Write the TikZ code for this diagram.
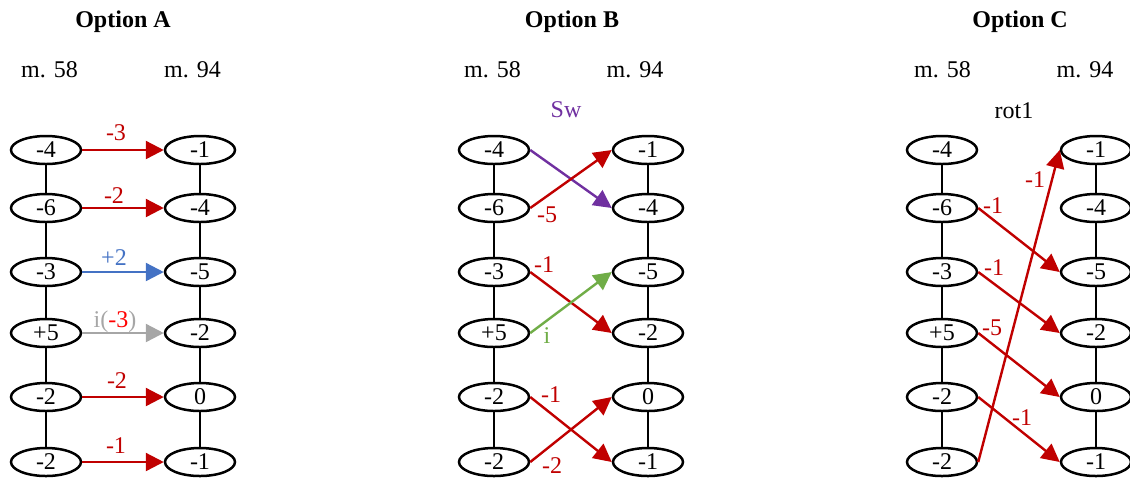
\documentclass[tikz,border=0pt]{standalone}
\usepackage{fontspec}
\setmainfont{Liberation Serif}
\usetikzlibrary{arrows.meta,shapes.geometric}
\definecolor{cred}{HTML}{C00000}
\definecolor{bred}{HTML}{FF0000}
\definecolor{cblue}{HTML}{4472C4}
\definecolor{cgray}{HTML}{A6A6A6}
\definecolor{cpurple}{HTML}{7030A0}
\definecolor{cgreen}{HTML}{70AD47}
\begin{document}
\begin{tikzpicture}[x=0.5pt,y=-0.5pt,
  nd/.style={draw,ellipse,line width=1.25pt,minimum width=35pt,minimum height=14pt,inner sep=0pt,font=\fontsize{12}{14}\selectfont},
  vl/.style={line width=0.6pt},
  ar/.style={line width=1.2pt,-{Triangle[length=9pt,width=9pt]}},
  lb/.style={font=\fontsize{12}{14}\selectfont,inner sep=0pt,anchor=base},
  ttl/.style={font=\bfseries\fontsize{12}{14}\selectfont,inner sep=0pt,anchor=base}]
\useasboundingbox (0,0) rectangle (1130,479);

% titles and headers
\node[ttl] (tA) at (123,27) {Option A};
\node[ttl] (tB) at (572,27) {Option B};
\node[ttl] (tC) at (1020,27) {Option C};
\node[lb] (hA1) at (49.5,77) {m. 58};
\node[lb] (hA2) at (192.5,77) {m. 94};
\node[lb] (hB1) at (492.5,77) {m. 58};
\node[lb] (hB2) at (635,77) {m. 94};
\node[lb] (hC1) at (942.5,77) {m. 58};
\node[lb] (hC2) at (1085,77) {m. 94};
\node[lb,text=cpurple] (sw) at (566,117) {Sw};
\node[lb] (rot) at (1014,118) {rot1};

% nodes
\foreach \g/\xl/\xr in {A/46/200, B/494/648, C/942/1096} {
  \foreach \i/\y/\l/\r in {1/150/-4/-1, 2/208/-6/-4, 3/272/-3/-5, 4/333/+5/-2, 5/397/-2/0, 6/462/-2/-1} {
    \node[nd] (\g L\i) at (\xl,\y) {\l};
    \node[nd] (\g R\i) at (\xr,\y) {\r};
  }
  \foreach \i/\j in {1/2,2/3,3/4,4/5,5/6} {
    \draw[vl] (\g L\i) -- (\g L\j);
    \draw[vl] (\g R\i) -- (\g R\j);
  }
}

% Option A
\draw[ar,cred] (AL1.east) -- (AR1.west);
\draw[ar,cred] (AL2.east) -- (AR2.west);
\draw[ar,cblue] (AL3.east) -- (AR3.west);
\draw[ar,cgray] (AL4.east) -- (AR4.west);
\draw[ar,cred] (AL5.east) -- (AR5.west);
\draw[ar,cred] (AL6.east) -- (AR6.west);
\node[lb,text=cred] (la1) at (116,140) {-3};
\node[lb,text=cred] (la2) at (114,203) {-2};
\node[lb,text=cblue] (la3) at (114,265) {+2};
\node[lb,text=cgray] (la4) at (115,327) {i(\textcolor{bred}{-3})};
\node[lb,text=cred] (la5) at (117,388) {-2};
\node[lb,text=cred] (la6) at (116,453) {-1};

% Option B
\draw[ar,cpurple] (BL1.east) -- (BR2.west);
\draw[ar,cred] (BL2.east) -- (BR1.west);
\draw[ar,cred] (BL3.east) -- (BR4.west);
\draw[ar,cgreen] (BL4.east) -- (BR3.west);
\draw[ar,cred] (BL5.east) -- (BR6.west);
\draw[ar,cred] (BL6.east) -- (BR5.west);
\node[lb,text=cred] (lb2) at (547,222) {-5};
\node[lb,text=cred] (lb3) at (544,272) {-1};
\node[lb,text=cgreen] (lb4) at (547,343) {i};
\node[lb,text=cred] (lb5) at (551,402) {-1};
\node[lb,text=cred] (lb6) at (552,473) {-2};

% Option C
\draw[ar,cred] (CL2.east) -- (CR3.west);
\draw[ar,cred] (CL3.east) -- (CR4.west);
\draw[ar,cred] (CL4.east) -- (CR5.west);
\draw[ar,cred] (CL5.east) -- (CR6.west);
\draw[ar,cred] (CL6.east) -- (CR1.west);
\node[lb,text=cred] (lc2) at (993,213) {-1};
\node[lb,text=cred] (lc6) at (1035,187) {-1};
\node[lb,text=cred] (lc3) at (994,275) {-1};
\node[lb,text=cred] (lc4) at (992,335) {-5};
\node[lb,text=cred] (lc5) at (1022,425) {-1};
\end{tikzpicture}
\end{document}
